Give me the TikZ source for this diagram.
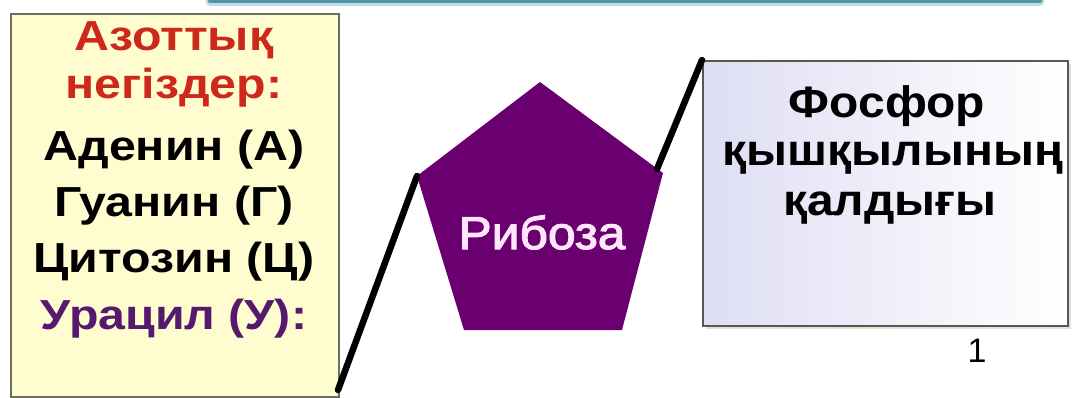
\documentclass[tikz,border=0pt]{standalone}
\usepackage{fontspec}
\setmainfont{Liberation Sans}
\newfontfamily\leftfont[FakeStretch=1.15]{Liberation Sans}
\newfontfamily\rightfont[FakeStretch=1.09]{Liberation Sans}
\newfontfamily\ribfont[FakeStretch=1.08,FakeBold=2.5]{Liberation Sans}
\definecolor{boxyellow}{RGB}{255,252,208}
\definecolor{boxedge}{RGB}{110,110,95}
\definecolor{redtxt}{RGB}{205,40,25}
\definecolor{purpletxt}{RGB}{85,25,110}
\definecolor{ribose}{RGB}{106,0,112}
\definecolor{ribtxt}{RGB}{255,230,250}
\definecolor{lavender}{RGB}{222,222,244}
\definecolor{tealline}{RGB}{80,150,170}
\tikzset{
  lbl/.style={font=\leftfont\fontsize{42}{42}\selectfont\bfseries, inner sep=0pt, anchor=base},
  rbl/.style={font=\rightfont\fontsize{44}{44}\selectfont\bfseries, inner sep=0pt, anchor=base},
  link/.style={line width=6.5pt, black, line cap=round}
}
\begin{document}
\begin{tikzpicture}[x=1pt,y=-1pt]
\useasboundingbox (0,0) rectangle (1077,397);
% top teal line
\coordinate (tl1) at (210,1);
\coordinate (tl2) at (1040,1);
\draw[tealline!35, line width=9pt, line cap=round] (tl1) -- (tl2);
\draw[tealline, line width=4pt, line cap=round] (tl1) -- (tl2);
% left box
\node[draw=boxedge, line width=1.5pt, fill=boxyellow, minimum width=328pt, minimum height=383pt, anchor=north west, inner sep=0pt] (lbox) at (10,13) {};
\node[lbl, text=redtxt] (l1) at (174,50) {Азоттық};
\node[lbl, text=redtxt] (l2) at (174,98) {негіздер:};
\node[lbl] (l3) at (174,160) {Аденин (А)};
\node[lbl] (l4) at (174,216) {Гуанин (Г)};
\node[lbl] (l5) at (174,272) {Цитозин (Ц)};
\node[lbl, text=purpletxt] (l6) at (174,329) {Урацил (У):};
% right box
\fill[black!12] (706,64) rectangle (1071,329);
\node[draw=boxedge!80!black, line width=1.5pt, left color=lavender, right color=white, minimum width=365pt, minimum height=265pt, anchor=north west, inner sep=0pt] (rbox) at (702,60) {};
\node[rbl] (r1) at (887,117) {Фосфор};
\node[rbl] (r2) at (893,165) {қышқылының};
\node[rbl] (r3) at (890,215) {қалдығы};
\node[font=\fontsize{34}{34}\selectfont, inner sep=0pt, anchor=base] (num) at (977,362) {1};
% pentagon
\coordinate (pT) at (540,82);
\coordinate (pL) at (417,176);
\coordinate (pR) at (663,173);
\coordinate (pBL) at (464,330);
\coordinate (pBR) at (622,330);
\fill[ribose] (pT) -- (pR) -- (pBR) -- (pBL) -- (pL) -- cycle;
\node[font=\ribfont\fontsize{46}{46}\selectfont, text=ribtxt, inner sep=0pt, anchor=base] (rib) at (542,249) {Рибоза};
% connectors
\coordinate (lc) at (338,390);
\coordinate (rc) at (657,169);
\draw[link] (lc) -- (pL);
\draw[link] (rc) -- (rbox.north west);
\end{tikzpicture}
\end{document}
